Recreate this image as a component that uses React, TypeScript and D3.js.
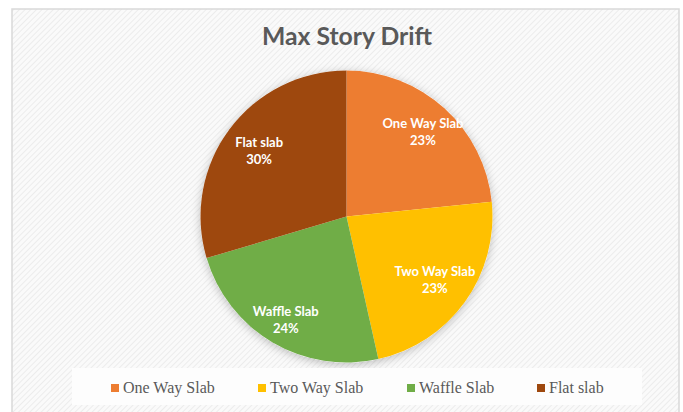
import React from "react";
import * as d3 from "d3";

const categories = ["One Way Slab", "Two Way Slab", "Waffle Slab", "Flat slab"];
const values = [23.4, 23.1, 23.9, 29.6];
const colors = ["#ED7D31", "#FFC000", "#70AD47", "#9E480E"];
const title = "Max Story Drift";

const W = 683;
const H = 412;
const cx = 346.5;
const cy = 216.5;
const R = 146;
const labelRadii = [114, 109, 120, 109];

export default function App() {
  const total = d3.sum(values);
  const pie = d3.pie<number>().sort(null).value((d) => d)(values);
  const arc = d3.arc<d3.PieArcDatum<number>>().innerRadius(0).outerRadius(R);

  const legendMarkX = [111, 258, 407, 537];

  return (
    <>
      <style>{`body{margin:0}`}</style>
      <svg width={W} height={H} style={{ display: "block" }}>
        <defs>
          <pattern id="hatch" width="4" height="4" patternUnits="userSpaceOnUse" patternTransform="rotate(45)">
            <rect width="4" height="4" fill="#fafafa" />
            <line x1="0" y1="0" x2="0" y2="4" stroke="#ececec" strokeWidth="2" />
          </pattern>
          <filter id="shadow" x="-20%" y="-20%" width="140%" height="140%">
            <feDropShadow dx="0" dy="2" stdDeviation="5" floodColor="#000" floodOpacity="0.25" />
          </filter>
        </defs>
        <rect width={W} height={H} fill="#ffffff" />
        <rect x={12} y={9} width={667} height={H} fill="url(#hatch)" stroke="#d9d9d9" strokeWidth={1.5} />
        <text
          x={347}
          y={45}
          textAnchor="middle"
          fontFamily="Lato, 'Open Sans', sans-serif"
          fontWeight="bold"
          fontSize={25}
          fill="#595959"
          textLength={170}
          lengthAdjust="spacingAndGlyphs"
        >
          {title}
        </text>
        <g transform={`translate(${cx},${cy})`}>
          <circle r={R} fill="#fff" filter="url(#shadow)" />
          {pie.map((p, i) => (
            <path key={categories[i]} d={arc(p) || ""} fill={colors[i]} />
          ))}
          {pie.map((p, i) => {
            const la = d3.arc<d3.PieArcDatum<number>>().innerRadius(labelRadii[i]).outerRadius(labelRadii[i]);
            const [lx, ly] = la.centroid(p);
            return (
              <text
                key={"l" + i}
                x={lx}
                y={ly}
                textAnchor="middle"
                fontFamily="Lato, 'Open Sans', sans-serif"
                fontWeight="bold"
                fontSize={13}
                fill="#ffffff"
              >
                <tspan x={lx} dy={-4}>{categories[i]}</tspan>
                <tspan x={lx} dy={17}>{Math.round((values[i] / total) * 100) + "%"}</tspan>
              </text>
            );
          })}
        </g>
        <rect x={72} y={368} width={570} height={37} fill="#fdfdfd" />
        {categories.map((c, i) => (
          <g key={"lg" + i}>
            <rect x={legendMarkX[i]} y={384} width={8} height={8} fill={colors[i]} />
            <text
              x={legendMarkX[i] + 12}
              y={393}
              fontFamily="'Liberation Serif', 'Times New Roman', serif"
              fontSize={16}
              fill="#595959"
            >
              {c}
            </text>
          </g>
        ))}
      </svg>
    </>
  );
}
